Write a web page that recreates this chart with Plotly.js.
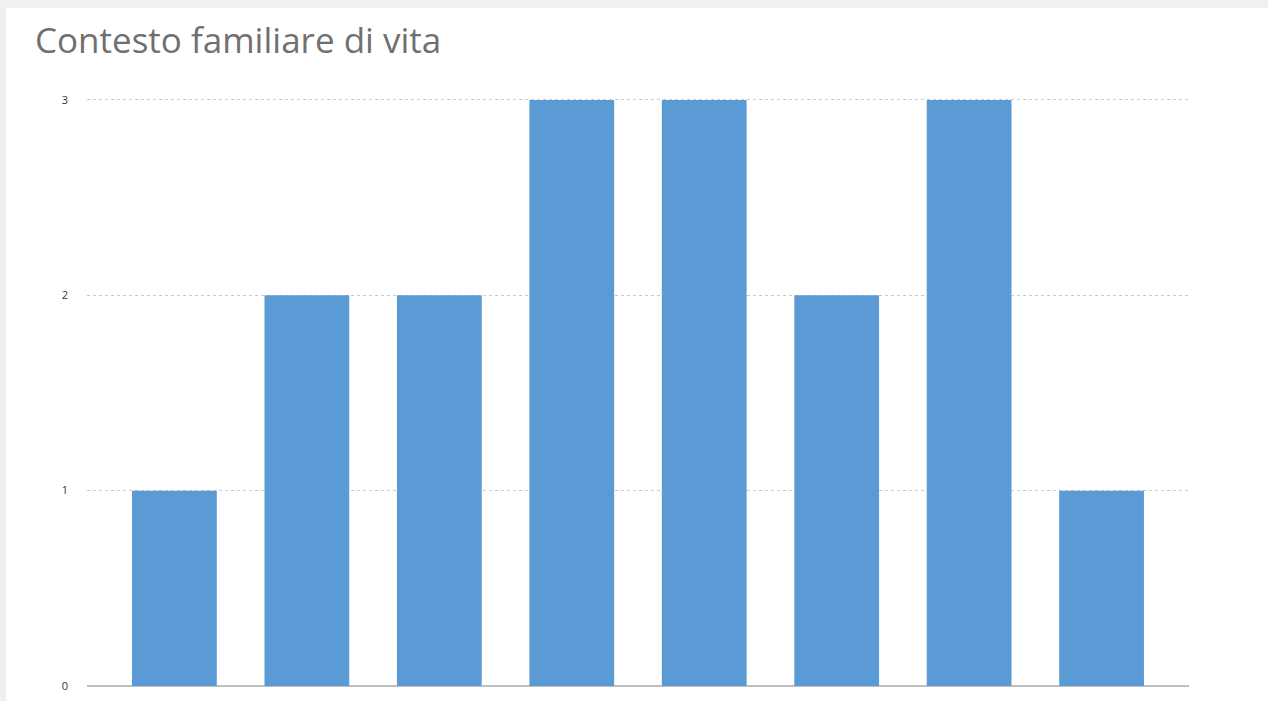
<!DOCTYPE html>
<html>
<head>
<meta charset="utf-8">
<script src="https://cdn.plot.ly/plotly-3.0.1.min.js"></script>
<style>
html,body{margin:0;padding:0;background:#eef0f2;width:1268px;height:701px;overflow:hidden;}
#chart{position:absolute;left:6px;top:8px;width:1262px;height:693px;background:#fff;}
</style>
</head>
<body>
<div id="chart"></div>
<script>
const categories = ["1","2","3","4","5","6","7","8"];
const values = [1, 2, 2, 3, 3, 2, 3, 1];
const yTicks = [0, 1, 2, 3];

const trace = {
  type: "bar",
  x: categories,
  y: values,
  width: 0.64,
  marker: {color: "#5b9bd5"},
  hoverinfo: "y"
};

const layout = {
  width: 1262,
  height: 693,
  paper_bgcolor: "#ffffff",
  plot_bgcolor: "#ffffff",
  margin: {l: 81, r: 79, t: 88, b: 15},
  title: {
    text: "Contesto familiare di vita",
    x: 0, xref: "container", xanchor: "left",
    y: 1, yref: "container", yanchor: "top",
    pad: {t: 20, l: 29},
    font: {family: "Open Sans, sans-serif", size: 35, color: "#707070"}
  },
  xaxis: {
    type: "category",
    range: [-0.66, 7.66],
    showticklabels: false,
    showgrid: false,
    zeroline: false,
    showline: false,
    ticks: ""
  },
  yaxis: {
    range: [0, 3.02],
    tickvals: yTicks,
    ticktext: yTicks.map(String),
    showgrid: true,
    gridcolor: "#cccccc",
    griddash: "dot",
    gridwidth: 1,
    zeroline: true,
    zerolinecolor: "#bfbfbf",
    zerolinewidth: 2,
    showline: false,
    ticks: "",
    ticklabelstandoff: 18,
    tickfont: {family: "Open Sans, sans-serif", size: 11, color: "#333"}
  },
  showlegend: false,
  bargap: 0.36
};

Plotly.newPlot("chart", [trace], layout, {displayModeBar: false, staticPlot: true});
</script>
</body>
</html>
